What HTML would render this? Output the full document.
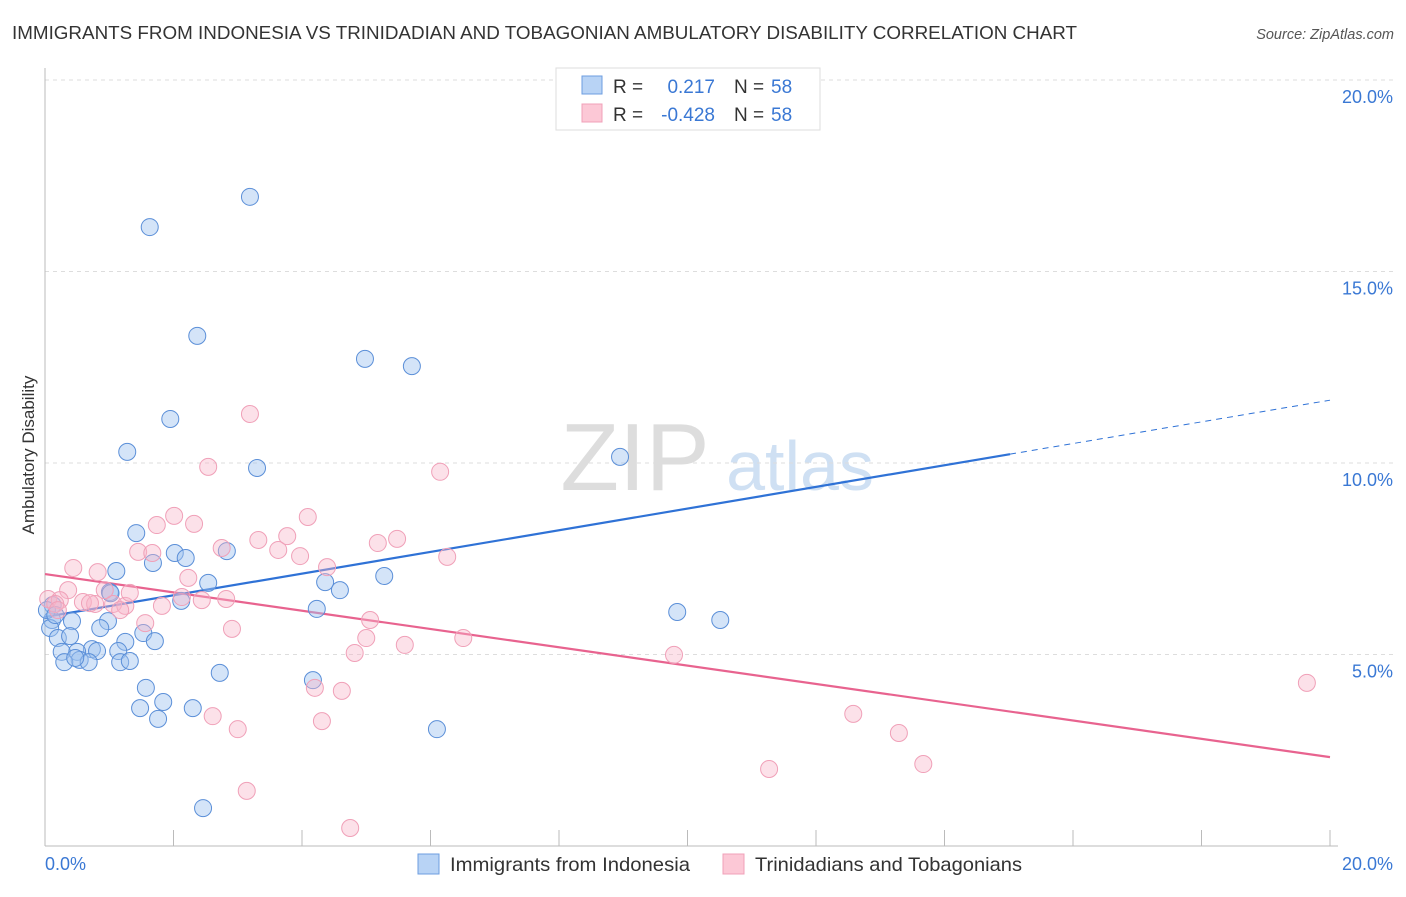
<!DOCTYPE html>
<html><head><meta charset="utf-8"><style>
body{margin:0;background:#fff;font-family:"Liberation Sans",sans-serif;}
svg text{font-family:"Liberation Sans",sans-serif;}
</style></head><body>
<svg id="chart" width="1406" height="892">
<text x="12" y="39" font-size="18" fill="#333" textLength="1065" lengthAdjust="spacingAndGlyphs">IMMIGRANTS FROM INDONESIA VS TRINIDADIAN AND TOBAGONIAN AMBULATORY DISABILITY CORRELATION CHART</text>
<text x="1394" y="39" font-size="14.5" fill="#555" font-style="italic" text-anchor="end">Source: ZipAtlas.com</text>
<text x="34" y="455" font-size="17" fill="#333" text-anchor="middle" transform="rotate(-90 34 455)">Ambulatory Disability</text>
<g>
<text x="635" y="490" font-size="96" fill="#ddd" font-family="Liberation Serif" text-anchor="middle">ZIP</text>
<text x="800" y="490" font-size="70" fill="#cfe0f3" text-anchor="middle">atlas</text></g>
<g id="grid"></g><g id="lines"></g><g id="pts"></g>
<g>
<rect x="556" y="68" width="264" height="62" fill="#fff" stroke="#ddd"/>
<rect x="582" y="76" width="20" height="18" fill="#b8d3f5" stroke="#6d9ee0"/>
<rect x="582" y="104" width="20" height="18" fill="#fcc8d6" stroke="#f0a0b8"/>
<text x="613" y="93" font-size="19" fill="#333">R = </text><text x="715" y="93" font-size="19" fill="#3a78d4" text-anchor="end">0.217</text>
<text x="734" y="93" font-size="19" fill="#333">N = </text><text x="771" y="93" font-size="19" fill="#3a78d4">58</text>
<text x="613" y="121" font-size="19" fill="#333">R = </text><text x="715" y="121" font-size="19" fill="#3a78d4" text-anchor="end">-0.428</text>
<text x="734" y="121" font-size="19" fill="#333">N = </text><text x="771" y="121" font-size="19" fill="#3a78d4">58</text>
</g>
<g>
<rect x="418" y="854" width="21" height="20" fill="#b8d3f5" stroke="#6d9ee0"/>
<text x="450" y="871" font-size="19.5" fill="#333" textLength="240" lengthAdjust="spacingAndGlyphs">Immigrants from Indonesia</text>
<rect x="723" y="854" width="21" height="20" fill="#fcc8d6" stroke="#f0a0b8"/>
<text x="755" y="871" font-size="19.5" fill="#333" textLength="267" lengthAdjust="spacingAndGlyphs">Trinidadians and Tobagonians</text>
</g>
</svg>
<script>
const yTicks=[5,10,15,20];
const xTickLabels=["0.0%","20.0%"];
const blueX=[3.19,1.63,2.37,4.98,5.71,1.95,1.28,3.30,8.95,1.42,2.02,2.19,2.83,1.68,1.11,2.54,4.36,4.59,5.28,1.01,2.12,4.23,9.84,10.51,0.12,0.11,0.98,0.86,0.42,0.08,1.53,1.25,0.20,0.39,1.71,0.73,1.14,0.50,0.81,0.26,0.54,0.30,0.68,1.17,1.32,2.72,4.17,1.57,1.48,1.84,2.30,1.76,6.10,2.46,0.03,0.16,0.47,1.02];
const blueY=[16.95,16.16,13.32,12.72,12.53,11.15,10.29,9.87,10.16,8.17,7.65,7.52,7.70,7.39,7.18,6.87,6.89,6.68,7.05,6.63,6.40,6.19,6.11,5.90,6.29,5.90,5.87,5.69,5.87,5.69,5.56,5.33,5.43,5.48,5.35,5.14,5.09,5.07,5.09,5.07,4.86,4.80,4.80,4.80,4.83,4.52,4.33,4.13,3.60,3.76,3.60,3.32,3.05,0.99,6.16,6.03,4.91,6.60];
const pinkX=[3.19,2.54,6.15,2.01,1.74,2.32,4.09,3.32,3.77,5.48,5.18,2.75,1.45,1.67,3.63,3.97,6.26,4.39,0.44,0.82,2.23,0.36,0.05,0.23,0.59,0.78,1.06,1.25,1.82,2.13,2.44,2.82,1.32,0.93,1.56,2.91,5.06,6.51,5.00,5.60,4.82,9.79,19.64,4.20,4.62,2.61,12.58,13.29,3.00,4.31,11.27,13.67,3.14,4.75,0.16,0.20,0.70,1.17];
const pinkY=[11.28,9.90,9.77,8.62,8.38,8.41,8.59,7.99,8.09,8.02,7.91,7.78,7.68,7.65,7.73,7.57,7.55,7.28,7.26,7.15,7.00,6.68,6.45,6.42,6.37,6.32,6.32,6.27,6.27,6.50,6.42,6.45,6.61,6.68,5.82,5.67,5.90,5.43,5.43,5.25,5.04,4.99,4.26,4.13,4.05,3.39,3.45,2.95,3.05,3.26,2.01,2.14,1.44,0.47,6.32,6.16,6.34,6.16];
const blueTrend=[5.98,11.64]; const blueSolidEnd=15.02;
const pinkTrend=[7.10,2.32];
const NS='http://www.w3.org/2000/svg';
const sx=v=>45+v/20*1285, sy=v=>846-v/20*766;
function mk(tag,attrs,parent){const e=document.createElementNS(NS,tag);for(const k in attrs)e.setAttribute(k,attrs[k]);parent.appendChild(e);return e;}
const grid=document.getElementById('grid');
yTicks.forEach(t=>{
 const l=mk('line',{x1:45,x2:1393,y1:sy(t),y2:sy(t),stroke:'#ddd','stroke-dasharray':'4,4'},grid);
 
 
 const tx=mk('text',{x:1393,y:sy(t)+23,'font-size':18,fill:'#3a78d4','text-anchor':'end'},grid);
 tx.textContent=t.toFixed(1)+'%';
 
 
});
mk('line',{x1:45,x2:45,y1:68,y2:846,stroke:'#bbb'},grid);
mk('line',{x1:45,x2:1338,y1:846,y2:846,stroke:'#bbb'},grid);
for(let i=1;i<=10;i++){const x=sx(i*2);mk('line',{x1:x,x2:x,y1:830,y2:846,stroke:'#bbb'},grid);}
const xl0=mk('text',{x:45,y:870,'font-size':18,fill:'#3a78d4'},grid);xl0.textContent=xTickLabels[0];


const xl1=mk('text',{x:1393,y:870,'font-size':18,fill:'#3a78d4','text-anchor':'end'},grid);xl1.textContent=xTickLabels[1];


const pts=document.getElementById('pts');
blueX.forEach((x,i)=>{const c=mk('circle',{cx:sx(x),cy:sy(blueY[i]),r:8.5,fill:'rgba(160,196,240,0.45)',stroke:'#5b8fd8','stroke-width':1},pts);
 
 });
pinkX.forEach((x,i)=>{const c=mk('circle',{cx:sx(x),cy:sy(pinkY[i]),r:8.5,fill:'rgba(248,180,200,0.4)',stroke:'#f0a0b8','stroke-width':1},pts);
 
 });
const lines=document.getElementById('lines');
const by=x=>blueTrend[0]+(blueTrend[1]-blueTrend[0])*x/20;
const l1=mk('line',{x1:sx(0),y1:sy(by(0)),x2:sx(blueSolidEnd),y2:sy(by(blueSolidEnd)),stroke:'#2f72d6','stroke-width':2.2},lines);


const l2=mk('line',{x1:sx(blueSolidEnd),y1:sy(by(blueSolidEnd)),x2:sx(20),y2:sy(by(20)),stroke:'#2f72d6','stroke-width':1,'stroke-dasharray':'6,5'},lines);


const l3=mk('line',{x1:sx(0),y1:sy(pinkTrend[0]),x2:sx(20),y2:sy(pinkTrend[1]),stroke:'#e8638f','stroke-width':2.2},lines);


</script>
</body></html>
